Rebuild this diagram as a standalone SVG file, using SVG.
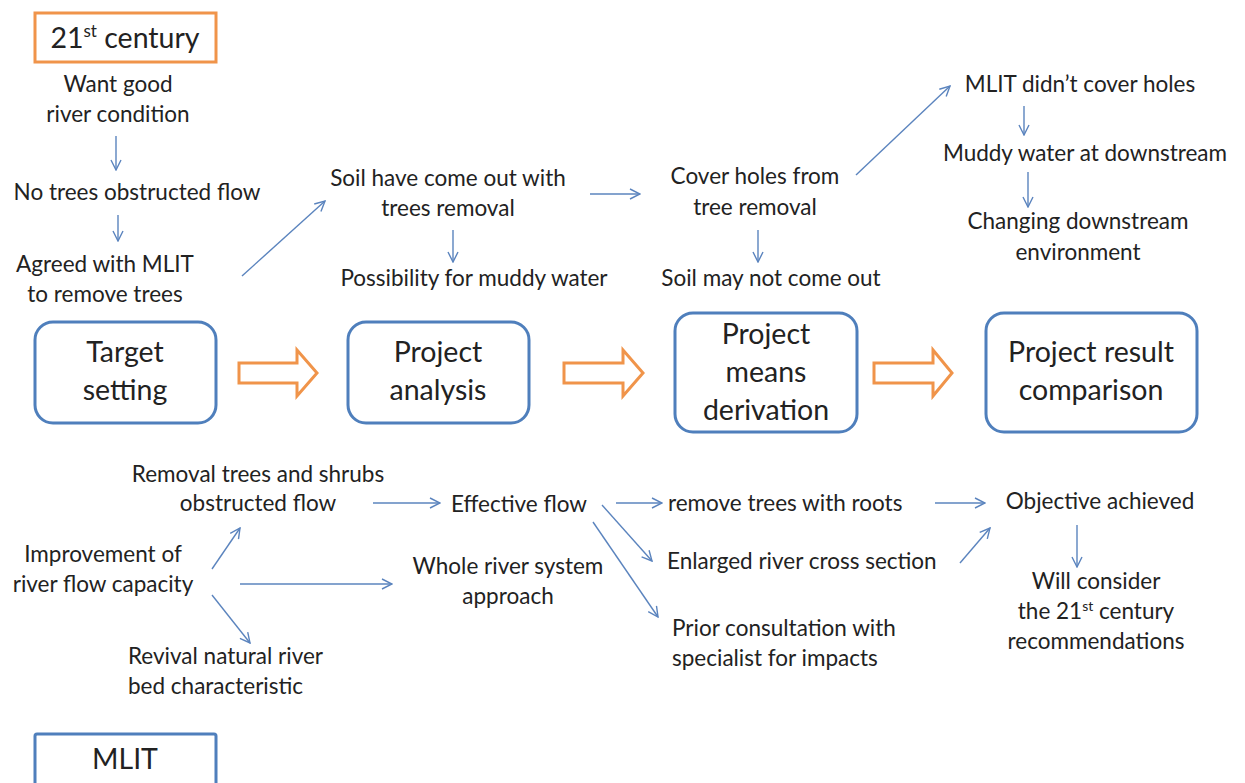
<svg xmlns="http://www.w3.org/2000/svg" width="1245" height="783" viewBox="0 0 1245 783">
<defs>
<marker id="ah" viewBox="0 0 12 12" refX="11" refY="6" markerWidth="12" markerHeight="12" markerUnits="userSpaceOnUse" orient="auto">
<path d="M1,1 L11,6 L1,11" fill="none" stroke="#5B84BE" stroke-width="1.4"/>
</marker>
<style>
text{font-family:Lato,"Open Sans","Liberation Sans",sans-serif;fill:#222;}
.t{font-size:22.5px;text-anchor:middle;}
.tl{font-size:22.5px;}
.b{font-size:28.5px;text-anchor:middle;}
.box{fill:#fff;stroke:#4F7FBC;stroke-width:3;}
.obox{fill:#fff;stroke:#F0944A;stroke-width:3;}
.oarr{fill:#fff;stroke:#F0944A;stroke-width:3;stroke-linejoin:miter;}
.c{stroke:#5B84BE;stroke-width:1.4;fill:none;marker-end:url(#ah);}
</style>
</defs>
<rect width="1245" height="783" fill="#fff"/>

<g id="n21">
<rect class="obox" x="35" y="13" width="181" height="49"/>
<text class="b" x="125" y="48" font-size="29">21<tspan font-size="17" dy="-11">st</tspan><tspan dy="11"> century</tspan></text>
</g>
<g id="nwant"><text class="t" x="118" y="92">Want good</text><text class="t" x="118" y="122">river condition</text></g>
<g id="nnotrees"><text class="t" x="137" y="200">No trees obstructed flow</text></g>
<g id="nagreed"><text class="t" x="105" y="272">Agreed with MLIT</text><text class="t" x="105" y="302">to remove trees</text></g>
<g id="nsoil"><text class="t" x="448" y="186">Soil have come out with</text><text class="t" x="448" y="216">trees removal</text></g>
<g id="npossib"><text class="t" x="474" y="286">Possibility for muddy water</text></g>
<g id="ncover"><text class="t" x="755" y="184">Cover holes from</text><text class="t" x="755" y="215">tree removal</text></g>
<g id="nsoilmay"><text class="t" x="771" y="286">Soil may not come out</text></g>
<g id="nmlitdidnt"><text class="t" x="1080" y="92">MLIT didn’t cover holes</text></g>
<g id="nmuddy"><text class="t" x="1085" y="161">Muddy water at downstream</text></g>
<g id="nchanging"><text class="t" x="1078" y="229">Changing downstream</text><text class="t" x="1078" y="260">environment</text></g>

<g id="ntarget"><rect class="box" x="35" y="322" width="181" height="101" rx="18"/><text class="b" x="125" y="362">Target</text><text class="b" x="125" y="400">setting</text></g>
<g id="nanalysis"><rect class="box" x="348" y="322" width="181" height="101" rx="18"/><text class="b" x="438" y="362">Project</text><text class="b" x="438" y="400">analysis</text></g>
<g id="nmeans"><rect class="box" x="675" y="313" width="182" height="119" rx="18"/><text class="b" x="766" y="344">Project</text><text class="b" x="766" y="382">means</text><text class="b" x="766" y="420">derivation</text></g>
<g id="nresult"><rect class="box" x="986" y="313" width="211" height="119" rx="18"/><text class="b" x="1091" y="362">Project result</text><text class="b" x="1091" y="400">comparison</text></g>

<g id="oarrows">
<path class="oarr" d="M239,363 H297 V350 L317,373 L297,396 V383 H239 Z"/>
<path class="oarr" d="M564,363 H623 V350 L643,373 L623,396 V383 H564 Z"/>
<path class="oarr" d="M874,363 H933 V350 L952,373 L933,396 V383 H874 Z"/>
</g>

<g id="nremoval"><text class="t" x="258" y="482">Removal trees and shrubs</text><text class="t" x="258" y="511">obstructed flow</text></g>
<g id="neffective"><text class="t" x="519" y="512">Effective flow</text></g>
<g id="nimprove"><text class="t" x="103" y="562">Improvement of</text><text class="t" x="103" y="592">river flow capacity</text></g>
<g id="nwhole"><text class="t" x="508" y="574">Whole river system</text><text class="t" x="508" y="604">approach</text></g>
<g id="nrevival"><text class="tl" x="128" y="664">Revival natural river</text><text class="tl" x="128" y="694">bed characteristic</text></g>
<g id="nroots"><text class="tl" x="668" y="511">remove trees with roots</text></g>
<g id="nenlarged"><text class="tl" x="667" y="569">Enlarged river cross section</text></g>
<g id="nprior"><text class="tl" x="672" y="636">Prior consultation with</text><text class="tl" x="672" y="666">specialist for impacts</text></g>
<g id="nobjective"><text class="t" x="1100" y="509">Objective achieved</text></g>
<g id="nwill"><text class="t" x="1096" y="589">Will consider</text><text class="t" x="1096" y="619">the 21<tspan font-size="14" dy="-8">st</tspan><tspan dy="8"> century</tspan></text><text class="t" x="1096" y="649">recommendations</text></g>

<g id="nmlit"><rect class="box" x="35" y="734" width="181" height="60" rx="2"/><text class="b" x="125" y="769">MLIT</text></g>

<g id="connectors">
<line class="c" x1="116" y1="136" x2="116" y2="170"/>
<line class="c" x1="118" y1="215" x2="118" y2="241"/>
<line class="c" x1="242" y1="276" x2="325" y2="201"/>
<line class="c" x1="453" y1="230" x2="453" y2="262"/>
<line class="c" x1="590" y1="194" x2="640" y2="194"/>
<line class="c" x1="758" y1="230" x2="758" y2="262"/>
<line class="c" x1="856" y1="175" x2="950" y2="86"/>
<line class="c" x1="1024" y1="106" x2="1024" y2="135"/>
<line class="c" x1="1028" y1="172" x2="1028" y2="207"/>
<line class="c" x1="373" y1="503" x2="440" y2="503"/>
<line class="c" x1="212" y1="569" x2="240" y2="528"/>
<line class="c" x1="240" y1="584" x2="392" y2="584"/>
<line class="c" x1="212" y1="595" x2="250" y2="643"/>
<line class="c" x1="616" y1="503" x2="662" y2="503"/>
<line class="c" x1="602" y1="505" x2="652" y2="561"/>
<line class="c" x1="593" y1="522" x2="658" y2="617"/>
<line class="c" x1="935" y1="503" x2="985" y2="503"/>
<line class="c" x1="960" y1="563" x2="990" y2="528"/>
<line class="c" x1="1077" y1="525" x2="1077" y2="567"/>
</g>
</svg>
